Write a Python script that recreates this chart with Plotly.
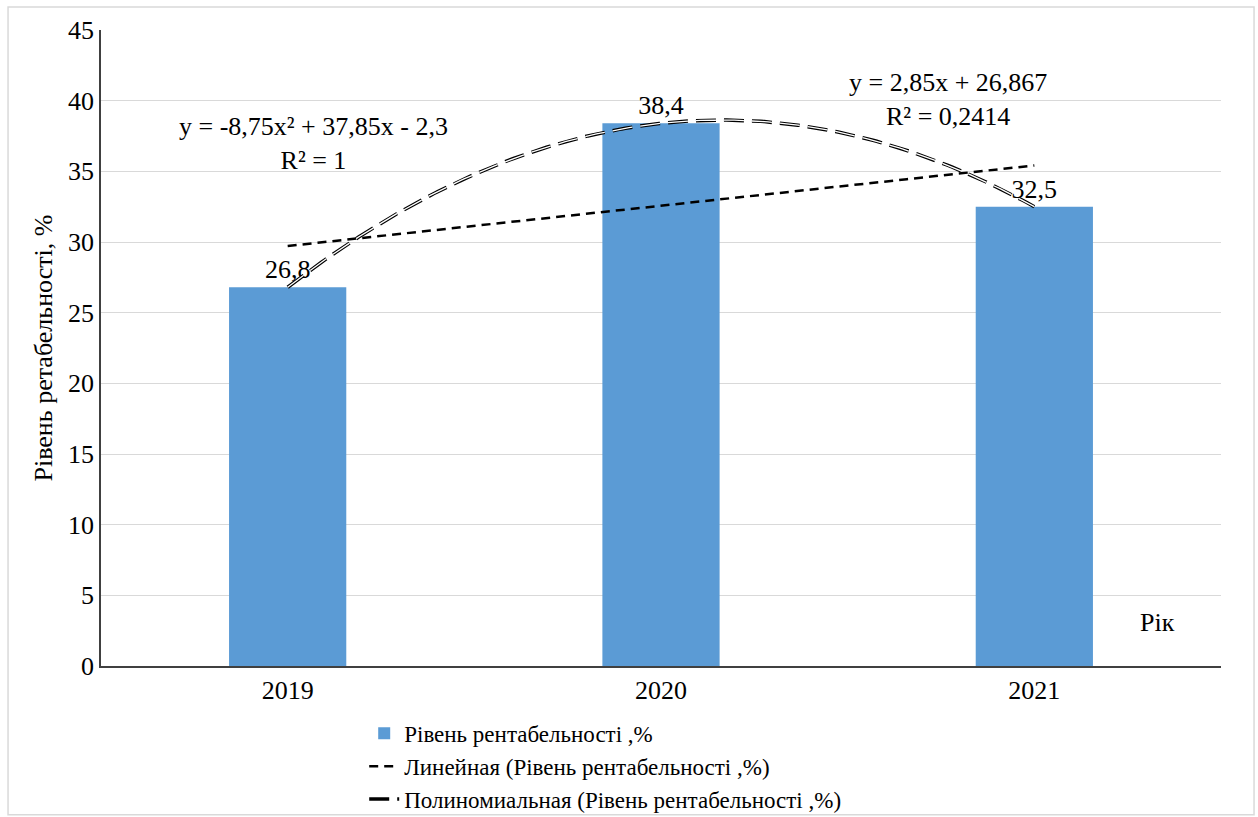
import numpy as np
import plotly.graph_objects as go

years = ["2019", "2020", "2021"]
xpos = [1, 2, 3]
values = [26.8, 38.4, 32.5]
value_labels = ["26,8", "38,4", "32,5"]
bar_name = "Рівень рентабельності ,%"
lin_name = "Линейная (Рівень рентабельності ,%)"
poly_name = "Полиномиальная (Рівень рентабельності ,%)"
lin_eq = "y = 2,85x + 26,867<br>R² = 0,2414"
poly_eq = "y = -8,75x² + 37,85x - 2,3<br>R² = 1"

FONT = "Liberation Serif"

lin_c = np.polyfit(xpos, values, 1)
poly_c = np.polyfit(xpos, values, 2)
xs = np.linspace(1, 3, 200)
lin_y = np.polyval(lin_c, xs)
poly_y = np.polyval(poly_c, xs)

fig = go.Figure()
fig.add_trace(go.Bar(
    x=xpos, y=values, width=0.314, name=bar_name,
    marker=dict(color="#5b9bd5", line=dict(width=0)),
    text=value_labels, textposition="outside", cliponaxis=False,
    textfont=dict(family=FONT, size=26, color="#000"),
))
fig.add_trace(go.Scatter(
    x=xs, y=lin_y, mode="lines", name=lin_name,
    line=dict(color="#000", width=2.5, dash="9px,6px"),
))
fig.add_trace(go.Scatter(
    x=xs, y=poly_y, mode="lines", name=poly_name,
    line=dict(color="#000", width=3.5, dash="20px,8px"),
))
fig.add_trace(go.Scatter(
    x=xs, y=poly_y, mode="lines", showlegend=False, hoverinfo="skip",
    line=dict(color="#fff", width=1.3, dash="20px,8px"),
))

fig.add_annotation(x=1.07, y=37.0, xref="x", yref="y", text=poly_eq,
                   showarrow=False, font=dict(family=FONT, size=26, color="#000"),
                   align="center")
fig.add_annotation(x=2.77, y=40.1, xref="x", yref="y", text=lin_eq,
                   showarrow=False, font=dict(family=FONT, size=26, color="#000"),
                   align="center")
fig.add_annotation(x=3.33, y=3.1, xref="x", yref="y", text="Рік",
                   showarrow=False, font=dict(family=FONT, size=26, color="#000"))

fig.add_shape(type="rect", xref="paper", yref="paper",
              x0=-0.083, x1=1.0295, y0=-0.234, y1=1.036,
              line=dict(color="#d9d9d9", width=1.5), layer="below")

fig.update_layout(
    width=1258, height=817,
    margin=dict(l=101, r=37, t=30, b=151, autoexpand=False),
    paper_bgcolor="#fff", plot_bgcolor="#fff",
    font=dict(family=FONT, size=26, color="#000"),
    showlegend=True,
    legend=dict(x=0.235, y=-0.072, xanchor="left", yanchor="top",
                font=dict(family=FONT, size=23, color="#000"),
                tracegroupgap=0, itemwidth=30, bgcolor="rgba(0,0,0,0)"),
    xaxis=dict(range=[0.5, 3.5], tickvals=xpos, ticktext=years,
               showgrid=False, zeroline=False, showline=True,
               linecolor="#404040", linewidth=1.5, ticks="",
               tickfont=dict(family=FONT, size=26, color="#000")),
    yaxis=dict(range=[0, 45], dtick=5, showgrid=True, gridcolor="#d9d9d9",
               gridwidth=1.3, zeroline=False, showline=True,
               linecolor="#404040", linewidth=1.5, ticks="",
               tickfont=dict(family=FONT, size=26, color="#000"),
               title=dict(text="Рівень ретабельності, %", standoff=8,
                          font=dict(family=FONT, size=26, color="#000"))),
)

fig.write_html("out.html")
